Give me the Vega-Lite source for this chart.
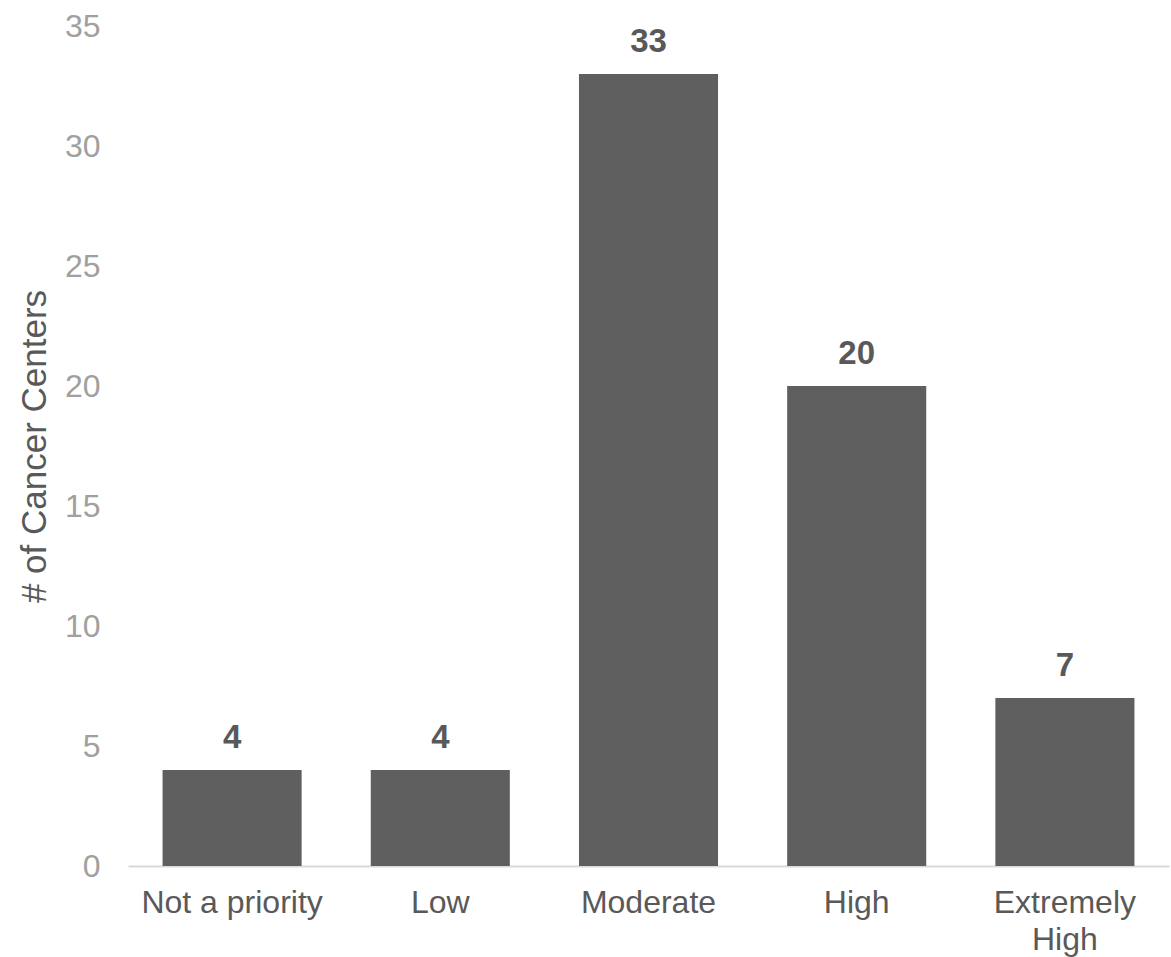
{
  "$schema": "https://vega.github.io/schema/vega-lite/v6.json",
  "autosize": "none",
  "width": 1041,
  "height": 840,
  "padding": {"left": 128, "top": 26, "right": 2, "bottom": 91},
  "background": "white",
  "data": {"values": [
    {"priority": "Not a priority", "count": 4},
    {"priority": "Low", "count": 4},
    {"priority": "Moderate", "count": 33},
    {"priority": "High", "count": 20},
    {"priority": "Extremely High", "count": 7}
  ]},
  "config": {
    "view": {"stroke": null},
    "font": "Liberation Sans"
  },
  "encoding": {
    "x": {
      "field": "priority", "type": "nominal", "sort": null,
      "scale": {"paddingInner": 0.332, "paddingOuter": 0.166},
      "axis": {
        "title": null, "labelAngle": 0, "labelFontSize": 32, "labelColor": "#595959",
        "labelPadding": 21, "ticks": false, "domainColor": "#d9d9d9", "domainWidth": 2,
        "labelLineHeight": 37, "labelLimit": 400, "labelOverlap": false,
        "labelExpr": "datum.label == 'Extremely High' ? ['Extremely', 'High'] : datum.label"
      }
    },
    "y": {
      "field": "count", "type": "quantitative",
      "scale": {"domain": [0, 35]},
      "axis": {
        "title": "# of Cancer Centers", "titleFontSize": 35, "titleFontWeight": "normal",
        "titleColor": "#595959", "titlePadding": 12,
        "values": [0, 5, 10, 15, 20, 25, 30, 35],
        "labelFontSize": 32, "labelColor": "#a0a0a0", "labelPadding": 28,
        "ticks": false, "domain": false, "grid": false
      }
    }
  },
  "layer": [
    {"mark": {"type": "bar", "color": "#5f5f5f"}},
    {
      "mark": {"type": "text", "fontSize": 33, "fontWeight": "bold", "color": "#595959", "baseline": "alphabetic", "dy": -22},
      "encoding": {"text": {"field": "count", "type": "quantitative"}}
    }
  ]
}
